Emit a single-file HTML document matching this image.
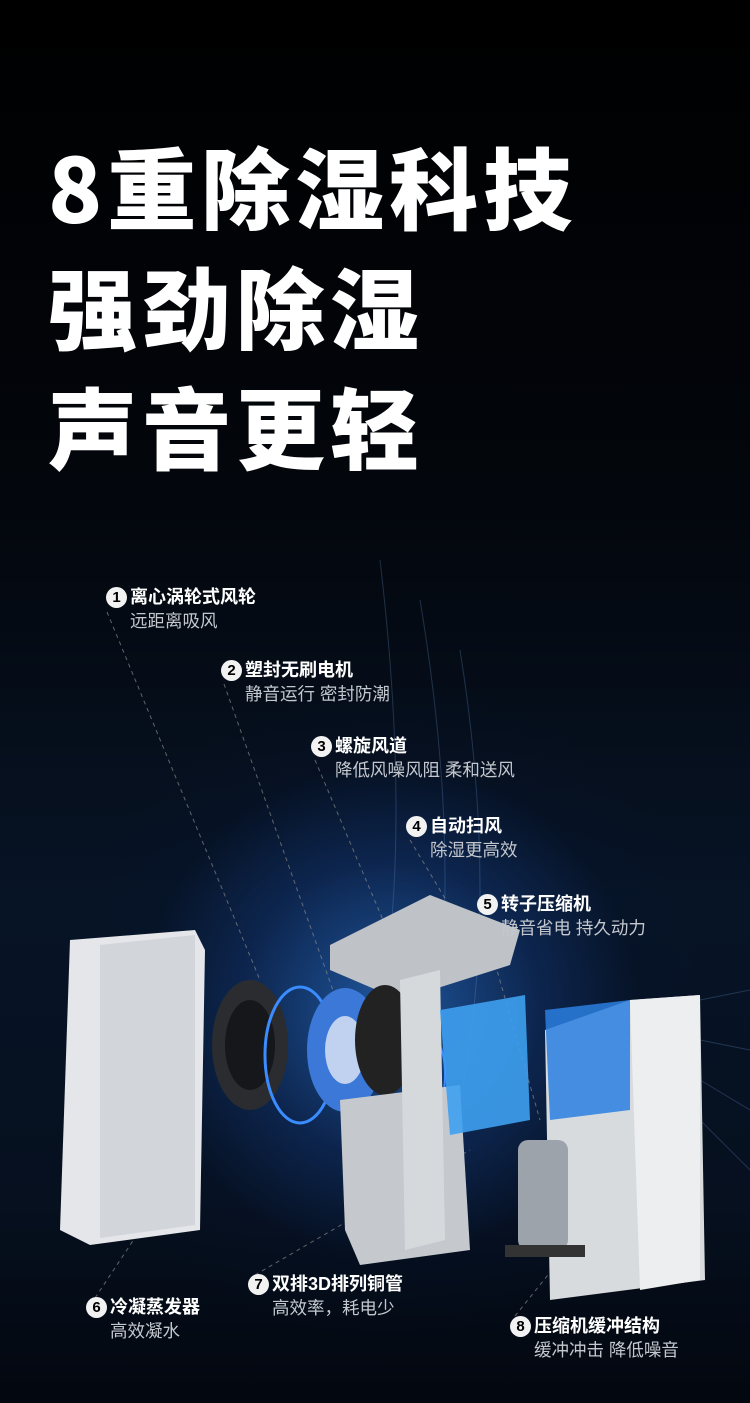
<!DOCTYPE html>
<html><head><meta charset="utf-8"><style>
*{margin:0;padding:0;box-sizing:border-box}
body{width:750px;height:1403px;overflow:hidden;background:#000;font-family:"Liberation Sans","Noto Sans CJK SC",sans-serif;position:relative}
.bg{position:absolute;inset:0;background:
radial-gradient(ellipse 330px 330px at 390px 1010px,rgba(40,110,200,.75),rgba(20,60,130,.45) 45%,rgba(5,20,50,.2) 75%,transparent 100%),
linear-gradient(#000 0,#03060c 500px,#071426 900px,#06101f 1200px,#03070f 1403px)}
.t{position:absolute;left:48px;color:#fff;font-weight:900;font-size:89px;letter-spacing:5px;line-height:1;font-family:"Noto Sans CJK SC",sans-serif}
.lab{position:absolute;color:#fff}
.lab .n{position:absolute;left:-24px;top:1px;width:21px;height:21px;border-radius:50%;background:#f2f2f2;color:#000;font-size:15px;font-weight:bold;font-style:normal;text-align:center;line-height:21px}
.lab b{display:block;font-size:18px;line-height:23px;font-weight:700;white-space:nowrap}
.lab span{display:block;font-size:17.5px;line-height:24px;color:#c4c8ce;white-space:nowrap}
</style></head><body>
<div class="bg"></div>
<div class="t" style="top:140px">8重除湿科技</div>
<div class="t" style="top:260px">强劲除湿</div>
<div class="t" style="top:380px">声音更轻</div>

<svg width="750" height="1403" style="position:absolute;left:0;top:0">
<g stroke="#888" stroke-dasharray="4 4" stroke-width="1" fill="none" opacity=".7">
<line x1="107" y1="612" x2="260" y2="980"/>
<line x1="224" y1="684" x2="340" y2="1010"/>
<line x1="315" y1="760" x2="400" y2="960"/>
<line x1="410" y1="840" x2="470" y2="940"/>
<line x1="482" y1="918" x2="540" y2="1120"/>
<line x1="95" y1="1298" x2="160" y2="1200"/>
<line x1="255" y1="1275" x2="470" y2="1150"/>
<line x1="515" y1="1316" x2="560" y2="1260"/>
</g>
<g stroke="#6fa0e0" stroke-width="1" fill="none" opacity=".25">
<path d="M380 560 Q420 900 360 1100"/><path d="M420 600 Q470 900 420 1100"/><path d="M460 650 Q500 900 460 1100"/>
<path d="M700 1000 L750 990"/><path d="M700 1040 L750 1050"/><path d="M700 1080 L750 1110"/><path d="M700 1120 L750 1170"/>
</g>
<path d="M70 940 L195 930 L205 950 L200 1230 L90 1245 L60 1230 Z" fill="#e4e6e9"/>
<path d="M100 945 L195 935 L195 1225 L100 1238 Z" fill="#d2d5d9"/>
<path d="M630 1000 L700 995 L705 1280 L550 1300 L545 1030 Z" fill="#d8dbde"/>
<path d="M630 1000 L700 995 L700 1280 L640 1290 Z" fill="#eceef0"/>
<path d="M545 1010 L630 1000 L630 1110 L550 1120 Z" fill="#2a7fe0" opacity=".85"/>
<path d="M330 945 L430 895 L520 930 L510 965 L400 1000 L330 970 Z" fill="#bfc3c8"/>
<ellipse cx="250" cy="1045" rx="38" ry="65" fill="#2a2c30"/>
<ellipse cx="250" cy="1045" rx="25" ry="45" fill="#15171a"/>
<ellipse cx="300" cy="1055" rx="35" ry="68" fill="none" stroke="#3a8cff" stroke-width="3"/>
<ellipse cx="345" cy="1050" rx="38" ry="62" fill="#3b78d8"/>
<ellipse cx="345" cy="1050" rx="20" ry="34" fill="#c0d2ef"/>
<ellipse cx="385" cy="1040" rx="30" ry="55" fill="#222"/>
<ellipse cx="425" cy="1075" rx="20" ry="45" fill="none" stroke="#3a8cff" stroke-width="2"/>
<path d="M340 1100 L460 1085 L470 1250 L360 1265 L345 1230 Z" fill="#c5c9ce"/>
<path d="M400 980 L440 970 L445 1240 L405 1250 Z" fill="#d6d9dc"/>
<path d="M440 1010 L525 995 L530 1120 L450 1135 Z" fill="#3ea0f0" opacity=".9"/>
<rect x="518" y="1140" width="50" height="110" rx="10" fill="#9da3aa"/>
<rect x="505" y="1245" width="80" height="12" fill="#333"/>
</svg>

<div class="lab" style="left:130px;top:586px"><i class="n">1</i><b>离心涡轮式风轮</b><span>远距离吸风</span></div>
<div class="lab" style="left:245px;top:659px"><i class="n">2</i><b>塑封无刷电机</b><span>静音运行 密封防潮</span></div>
<div class="lab" style="left:335px;top:735px"><i class="n">3</i><b>螺旋风道</b><span>降低风噪风阻 柔和送风</span></div>
<div class="lab" style="left:430px;top:815px"><i class="n">4</i><b>自动扫风</b><span>除湿更高效</span></div>
<div class="lab" style="left:501px;top:893px"><i class="n">5</i><b>转子压缩机</b><span>静音省电 持久动力</span></div>
<div class="lab" style="left:110px;top:1296px"><i class="n">6</i><b>冷凝蒸发器</b><span>高效凝水</span></div>
<div class="lab" style="left:272px;top:1273px"><i class="n">7</i><b>双排3D排列铜管</b><span>高效率，耗电少</span></div>
<div class="lab" style="left:534px;top:1315px"><i class="n">8</i><b>压缩机缓冲结构</b><span>缓冲冲击 降低噪音</span></div>
</body></html>
